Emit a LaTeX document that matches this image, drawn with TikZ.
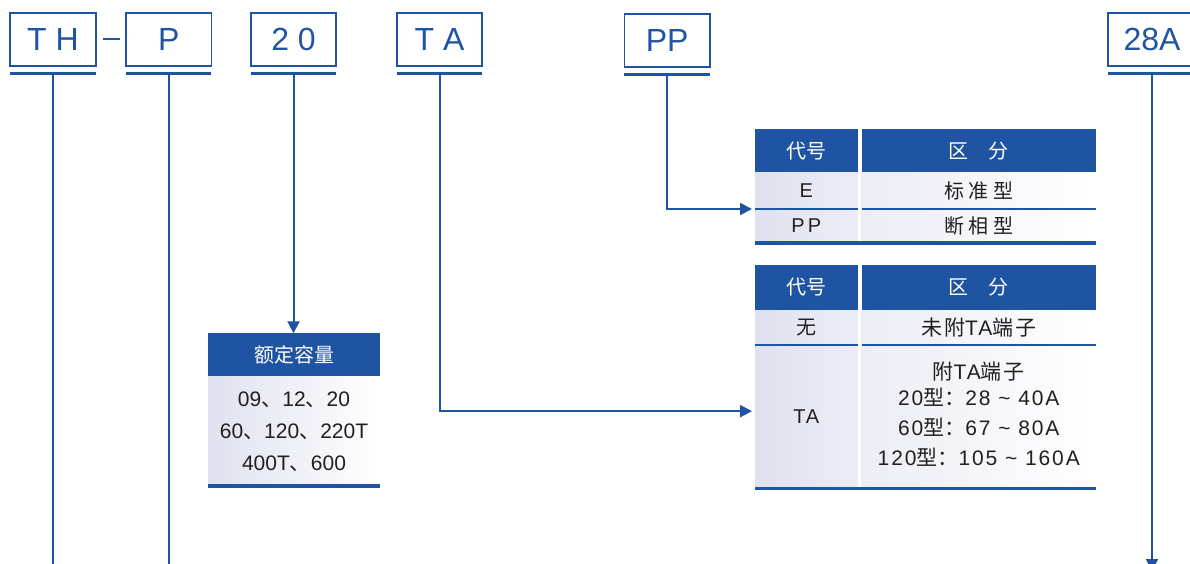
\documentclass[tikz,border=0pt]{standalone}
\usepackage{fontspec}
\setmainfont{Liberation Sans}
\newfontfamily\cjk{Noto Sans CJK SC}
\newfontfamily\widecjk{Noto Sans CJK SC}[LetterSpace=10]
\newfontfamily\widefont{Liberation Sans}[LetterSpace=9]
\usepackage{xcolor}
\usepackage{tikz}
\usetikzlibrary{arrows.meta}
\usetikzlibrary{positioning}
\definecolor{codeBlue}{HTML}{1F54A3}
\definecolor{cellShade}{HTML}{DFE1EF}
\definecolor{cellText}{HTML}{231F20}
\tikzset{code-line/.style={line width=2pt, color=codeBlue}}
\tikzset{under-line/.style={line width=2.6pt, color=codeBlue}}
\tikzset{bar-line/.style={line width=3.6pt, color=codeBlue}}
\tikzset{link/.style={code-line, -{Triangle[length=12pt, width=12pt]}}}
\tikzset{code-box/.style={
        draw=codeBlue,
        line width=1.8pt,
        text=codeBlue,
        inner sep=0,
        outer sep=0,
        minimum width=85.5pt,
        minimum height=53pt,
        font=\fontsize{32}{38}\selectfont
    }
}
\tikzset{head-cell/.style={fill=codeBlue, text=white, inner sep=0, outer sep=0, font=\cjk\fontsize{20}{24}\selectfont}}
\tikzset{body-cell/.style={inner sep=0, outer sep=0, text=cellText, align=center, font=\widefont\fontsize{20}{24}\selectfont}}
\tikzset{left-cell/.style={body-cell, left color=cellShade, right color=cellShade!60!white}}
\tikzset{right-cell/.style={body-cell, left color=cellShade!60!white, right color=white}}
\newcommand{\codebox}[3] {
    \node[code-box, #2] (#1) {#3};
    \coordinate[below=7.3pt of #1] (#1u);
    \draw[under-line] ([yshift=-7.3pt]#1.south west) -- ([yshift=-7.3pt]#1.south east);
}

\begin{document}
\begin{tikzpicture}[x=1pt, y=-1pt]
    \useasboundingbox (0,0) rectangle (1190,564);

    \codebox{th}{at={(53,39.5)}}{T H}
    \codebox{p}{at={(168.7,39.5)}}{P}
    \codebox{cap}{at={(293.5,39.5)}}{2 0}
    \codebox{ta}{at={(439.5,39.5)}}{T A}
    \codebox{pp}{at={(667.2,40.5)}}{PP}
    \codebox{cur}{at={(1152,39.5)}, minimum width=87.5pt}{28A}
    \draw[code-line] ([xshift=7.3pt]th.east) -- ([xshift=-6pt]p.west);

    % pp table
    \node[head-cell, anchor=north west, minimum width=102.5pt, minimum height=43.4pt] (phead1) at (755,129.3) {代号};
    \node[head-cell, right=4pt of phead1, minimum width=234.5pt, minimum height=43.4pt] (phead2) {区　分};
    \node[left-cell, below=0pt of phead1, minimum width=102.5pt, minimum height=36.3pt] (prow11) {E};
    \node[right-cell, below=0pt of phead2, minimum width=234.5pt, minimum height=36.3pt] (prow12) {{\cjk 标 准 型}};
    \node[left-cell, below=0pt of prow11, minimum width=102.5pt, minimum height=33.7pt] (prow21) {P\,P};
    \node[right-cell, below=0pt of prow12, minimum width=234.5pt, minimum height=33.7pt] (prow22) {{\cjk 断 相 型}};
    \draw[code-line] (prow11.south west) -- (prow11.south east);
    \draw[code-line] (prow12.south west) -- (prow12.south east);
    \draw[bar-line] (prow21.south west) -- (prow22.south east);

    % ta table
    \node[head-cell, anchor=north west, minimum width=102.5pt, minimum height=45pt] (thead1) at (755,265) {代号};
    \node[head-cell, right=4pt of thead1, minimum width=234.5pt, minimum height=45pt] (thead2) {区　分};
    \node[left-cell, below=0pt of thead1, minimum width=102.5pt, minimum height=35pt] (trow11) {{\cjk 无}};
    \node[right-cell, below=0pt of thead2, minimum width=234.5pt, minimum height=35pt,
          font=\widefont\fontsize{21}{24}\selectfont] (trow12) {{\widecjk 未附}TA{\widecjk 端子}};
    \node[left-cell, below=0pt of trow11, minimum width=102.5pt, minimum height=143.3pt] (trow21) {\raisebox{-6pt}{TA}};
    \node[right-cell, below=0pt of trow12, minimum width=234.5pt, minimum height=143.3pt,
          font=\widefont\fontsize{21}{30}\selectfont] (trow22)
          {{\widecjk 附}TA{\widecjk 端子}\\[-4pt]
           20{\cjk 型：}28 \textasciitilde{} 40A\\
           60{\cjk 型：}67 \textasciitilde{} 80A\\
           120{\cjk 型：}105 \textasciitilde{} 160A\\[-24pt]\mbox{}};
    \draw[code-line] (trow11.south west) -- (trow11.south east);
    \draw[code-line] (trow12.south west) -- (trow12.south east);
    \draw[bar-line] (trow21.south west) -- (trow22.south east);

    % capacity table
    \node[head-cell, anchor=north west, minimum width=172pt, minimum height=43.4pt] (chead) at (208,333.3) {额定容量};
    \node[body-cell, below=0pt of chead, left color=cellShade, right color=white,
          minimum width=172pt, minimum height=109.6pt, font=\fontsize{21}{32}\selectfont] (cbody)
          {09{\cjk 、}12{\cjk 、}20\\60{\cjk 、}120{\cjk 、}220T\\400T{\cjk 、}600};
    \draw[line width=4pt, codeBlue] (cbody.south west) -- (cbody.south east);

    % connectors
    \coordinate (thend) at (53,566);
    \coordinate (pend) at (168.7,566);
    \coordinate (curend) at (1152,571);
    \draw[code-line] (thu) -- (thend);
    \draw[code-line] (pu) -- (pend);
    \draw[link] (capu) -- (capu |- chead.north);
    \draw[link, shorten >=3pt] (tau) |- ([yshift=5.5pt]trow21.west);
    \draw[link, shorten >=3pt] (ppu) |- (prow11.south west);
    \draw[link] (curu) -- (curend);
\end{tikzpicture}
\end{document}
